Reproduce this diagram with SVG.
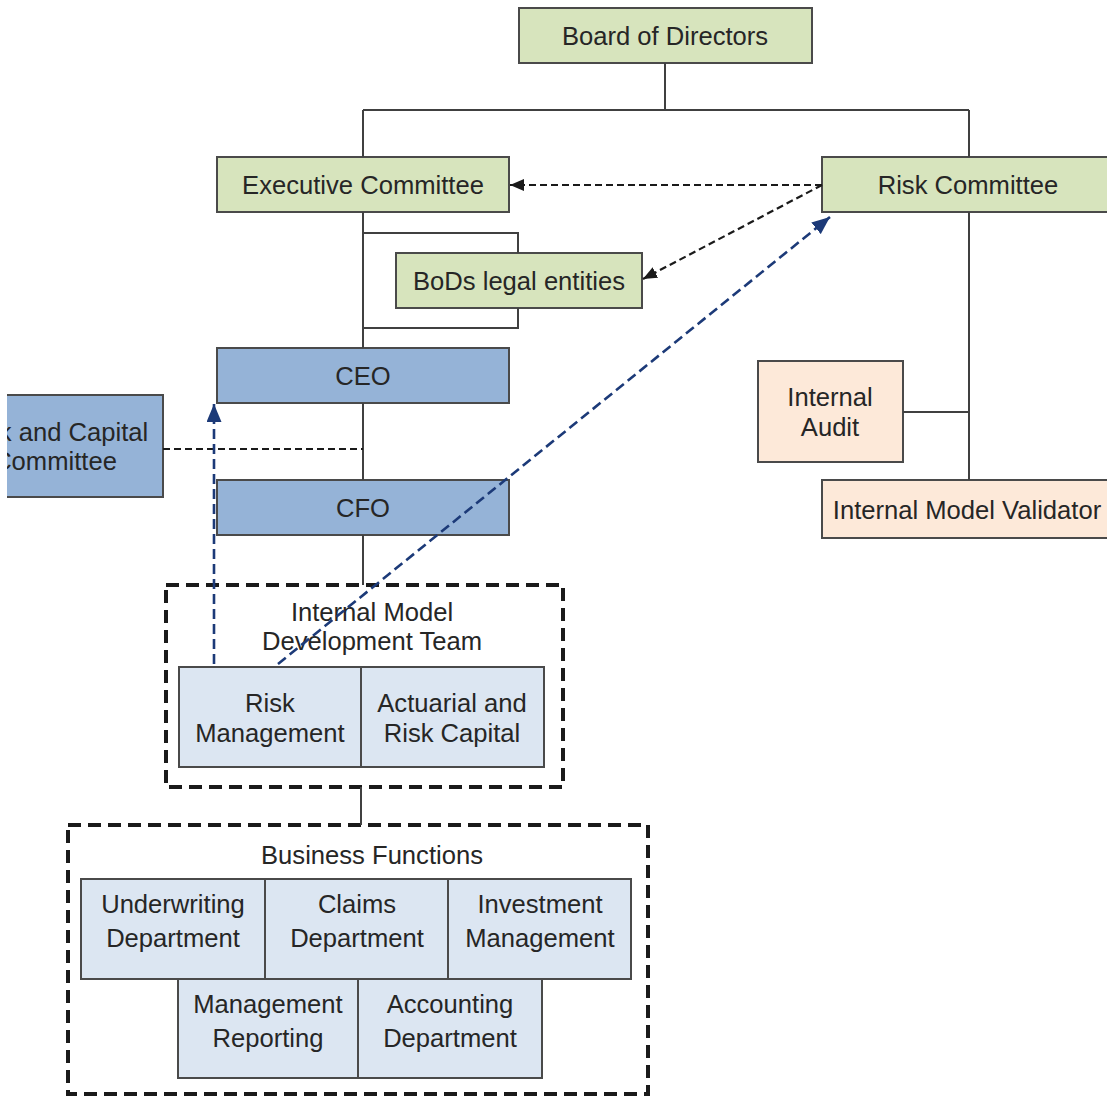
<svg xmlns="http://www.w3.org/2000/svg" width="1107" height="1097" viewBox="0 0 1107 1097">
<style>
text{font-family:"Liberation Sans",Arial,sans-serif;font-size:25.6px;fill:#262626;text-anchor:middle;dominant-baseline:central}
.g{fill:#d7e4bd;stroke:#4a4a4a;stroke-width:2}
.b{fill:#95b3d7;stroke:#4a4a4a;stroke-width:2}
.lb{fill:#dce6f2;stroke:#4a4a4a;stroke-width:2}
.p{fill:#fde9d9;stroke:#4a4a4a;stroke-width:2}
.grp{fill:none;stroke:#1a1a1a;stroke-width:4;stroke-dasharray:13 7}
.ln{fill:none;stroke:#404040;stroke-width:2}
.bd{fill:none;stroke:#1a1a1a;stroke-width:2.2;stroke-dasharray:7 4}
.nv{fill:none;stroke:#1c3a78;stroke-width:2.6;stroke-dasharray:10 5}
</style>
<defs>
<marker id="ab" viewBox="0 0 10 10" refX="10" refY="5" markerWidth="14" markerHeight="12" markerUnits="userSpaceOnUse" orient="auto" preserveAspectRatio="none"><path d="M0,0 L10,5 L0,10 z" fill="#1a1a1a"/></marker>
<marker id="an" viewBox="0 0 10 10" refX="10" refY="5" markerWidth="18" markerHeight="15" markerUnits="userSpaceOnUse" orient="auto" preserveAspectRatio="none"><path d="M0,0 L10,5 L0,10 z" fill="#1c3a78"/></marker>
<clipPath id="clipL"><rect x="7" y="0" width="1100" height="1097"/></clipPath>
</defs>
<rect width="1107" height="1097" fill="#ffffff"/>
<g id="board"><rect class="g" x="519" y="8" width="293" height="55"/><text x="665" y="36">Board of Directors</text></g>
<g id="exec"><rect class="g" x="217" y="157" width="292" height="55"/><text x="363" y="185">Executive Committee</text></g>
<g id="risk-committee"><rect class="g" x="822" y="157" width="300" height="55"/><text x="968" y="185">Risk Committee</text></g>
<g id="bods"><rect class="g" x="396" y="253" width="246" height="55"/><text x="519" y="281">BoDs legal entities</text></g>
<g id="ceo"><rect class="b" x="217" y="348" width="292" height="55"/><text x="363" y="376">CEO</text></g>
<g id="cfo"><rect class="b" x="217" y="480" width="292" height="55"/><text x="363" y="508">CFO</text></g>
<g id="rcc" clip-path="url(#clipL)"><rect class="b" x="-49" y="395" width="212" height="102"/><text x="55" y="432">Risk and Capital</text><text x="55" y="461">Committee</text></g>
<g id="audit"><rect class="p" x="758" y="361" width="145" height="101"/><text x="830" y="397">Internal</text><text x="830" y="427">Audit</text></g>
<g id="validator"><rect class="p" x="822" y="480" width="300" height="58"/><text x="967" y="510">Internal Model Validator</text></g>
<g id="imdt"><rect class="grp" x="166" y="585" width="397" height="202"/><text x="372" y="612">Internal Model</text><text x="372" y="641">Development Team</text></g>
<g id="riskmgmt"><rect class="lb" x="179" y="667" width="182" height="100"/><text x="270" y="703">Risk</text><text x="270" y="733">Management</text></g>
<g id="actuarial"><rect class="lb" x="361" y="667" width="183" height="100"/><text x="452" y="703">Actuarial and</text><text x="452" y="733">Risk Capital</text></g>
<g id="business"><rect class="grp" x="68" y="825" width="580" height="269"/><text x="372" y="855">Business Functions</text></g>
<g id="underwriting"><rect class="lb" x="81" y="879" width="184" height="100"/><text x="173" y="904">Underwriting</text><text x="173" y="938">Department</text></g>
<g id="claims"><rect class="lb" x="265" y="879" width="183" height="100"/><text x="357" y="904">Claims</text><text x="357" y="938">Department</text></g>
<g id="investment"><rect class="lb" x="448" y="879" width="183" height="100"/><text x="540" y="904">Investment</text><text x="540" y="938">Management</text></g>
<g id="mgmtrep"><rect class="lb" x="178" y="979" width="180" height="99"/><text x="268" y="1004">Management</text><text x="268" y="1038">Reporting</text></g>
<g id="accounting"><rect class="lb" x="358" y="979" width="184" height="99"/><text x="450" y="1004">Accounting</text><text x="450" y="1038">Department</text></g>
<g id="connectors">
<path class="ln" d="M665,63 V110 M363,110 H969 M363,110 V157 M969,110 V157 M969,212 V480 M363,212 V348 M363,233 H518 V253 M518,308 V328 H363 M363,403 V480 M363,535 V585 M903,412 H969 M361,787 V825"/>
<path class="bd" d="M163,449 H363"/>
<path class="bd" d="M822,185 H510" marker-end="url(#ab)"/>
<path class="bd" d="M822,185 L643,279" marker-end="url(#ab)"/>
<path class="nv" d="M278,664 L830,217" marker-end="url(#an)"/>
<path class="nv" d="M214,664 V404" marker-end="url(#an)"/>
</g>
</svg>
